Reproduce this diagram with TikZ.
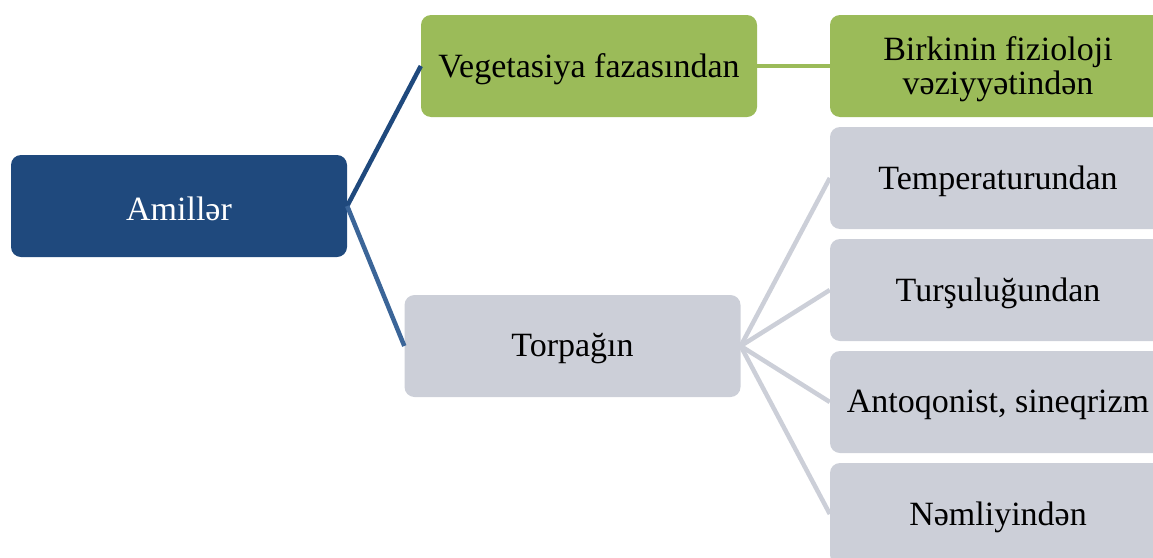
\documentclass[tikz,border=0pt]{standalone}
\usepackage{fontspec}
\setmainfont{Liberation Serif}
\definecolor{rootblue}{HTML}{1F497D}
\definecolor{linkblue}{HTML}{3B6598}
\definecolor{leafgreen}{HTML}{9BBB59}
\definecolor{leafgray}{HTML}{CCCFD8}
\tikzset{
  box/.style={rectangle, rounded corners=10pt, minimum width=336pt, minimum height=102pt,
    inner sep=0pt},
  boxtext/.style={align=center, inner sep=0pt, font=\fontsize{34}{34}\selectfont, yshift=-3pt},
  rootbox/.style={box, fill=rootblue},
  greenbox/.style={box, fill=leafgreen},
  graybox/.style={box, fill=leafgray},
  link/.style={line width=4.5pt},
}
\begin{document}
\begin{tikzpicture}[x=1pt, y=-1pt]
  \useasboundingbox (0,0) rectangle (1153,557);
  \clip (0,0) rectangle (1153,557);

  % boxes
  \node[rootbox]  (root) at (179,206)   {};
  \node[greenbox] (veg)  at (589,66)    {};
  \node[graybox]  (soil) at (572.5,346) {};
  \node[greenbox] (phys) at (998,66)    {};
  \node[graybox]  (temp) at (998,178)   {};
  \node[graybox]  (acid) at (998,290)   {};
  \node[graybox]  (anta) at (998,402)   {};
  \node[graybox]  (mois) at (998,514)   {};

  % box texts
  \node[boxtext, text=white] (rootT) at (root.center) {Amillər};
  \node[boxtext] (vegT)  at (veg.center)  {Vegetasiya fazasından};
  \node[boxtext] (soilT) at (soil.center) {Torpağın};
  \node[boxtext] (physT) at (phys.center) {Birkinin fizioloji\\vəziyyətindən};
  \node[boxtext] (tempT) at (temp.center) {Temperaturundan};
  \node[boxtext] (acidT) at (acid.center) {Turşuluğundan};
  \node[boxtext] (antaT) at (anta.center) {Antoqonist, sineqrizm};
  \node[boxtext] (moisT) at (mois.center) {Nəmliyindən};

  % connectors
  \draw[link, rootblue]  (root.east) -- (veg.west);
  \draw[link, linkblue]  (root.east) -- (soil.west);
  \draw[link, leafgreen] (veg.east) -- (phys.west);
  \foreach \t in {temp, acid, anta, mois}
    \draw[link, leafgray] (soil.east) -- (\t.west);
\end{tikzpicture}
\end{document}
